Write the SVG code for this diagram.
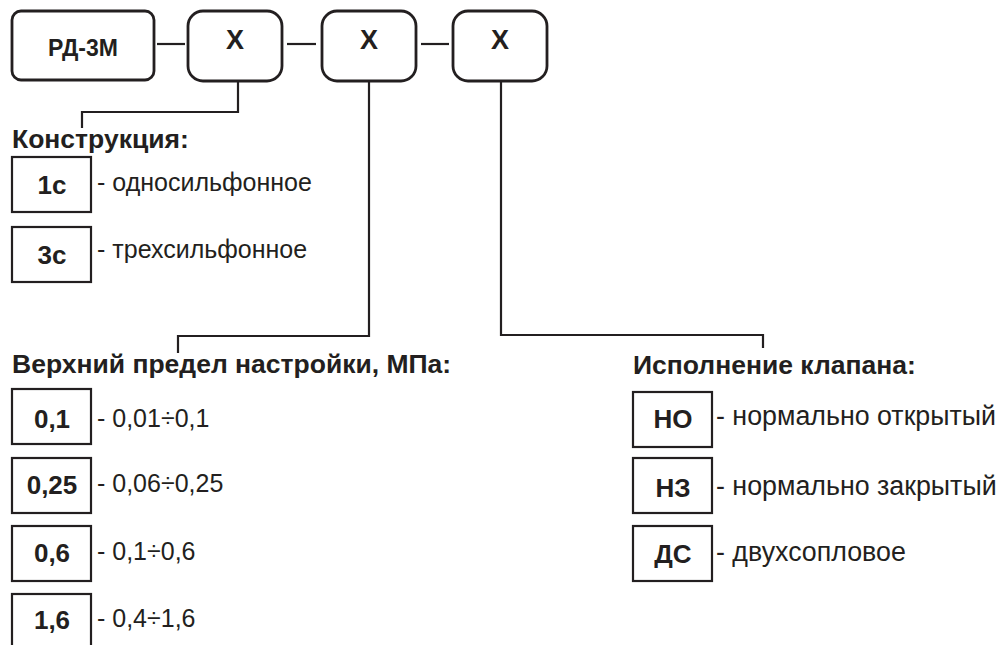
<svg xmlns="http://www.w3.org/2000/svg" width="998" height="645" viewBox="0 0 998 645">
<style>
.bg{fill:#ffffff}
.main{fill:#ffffff;stroke:#231f20;stroke-width:2.8}
.opt{fill:#ffffff;stroke:#231f20;stroke-width:2.2}
.conn{fill:none;stroke:#231f20;stroke-width:2.2}
text{font-family:"Liberation Sans",Arial,sans-serif;fill:#231f20}
.b{font-weight:bold}
.lbl{font-weight:bold;font-size:26px;text-anchor:middle}
.x{font-weight:bold;font-size:27px;text-anchor:middle}
.h{font-weight:bold;font-size:26.5px}
.d{font-size:25px}
.dr{font-size:26.8px}
</style>
<rect class="bg" x="0" y="0" width="998" height="645"/>
<g id="connectors">
<line class="conn" x1="157" y1="44" x2="185" y2="44"/>
<line class="conn" x1="287" y1="44" x2="316" y2="44"/>
<line class="conn" x1="421" y1="44" x2="449" y2="44"/>
<path class="conn" d="M238 81 V112 H82 V128"/>
<path class="conn" d="M369 81 V336 H178 V353"/>
<path class="conn" d="M501 81 V335 H763 V348"/>
</g>
<g id="rd3m"><rect class="main" x="12" y="11" width="142" height="69" rx="9"/><text class="b" x="83" y="56" font-size="23" text-anchor="middle">РД-3М</text></g>
<g id="x1"><rect class="main" x="188" y="11" width="94" height="70" rx="15"/><text class="x" x="235" y="49">Х</text></g>
<g id="x2"><rect class="main" x="322" y="11" width="94" height="70" rx="15"/><text class="x" x="369" y="49">Х</text></g>
<g id="x3"><rect class="main" x="453" y="11" width="94" height="70" rx="15"/><text class="x" x="500" y="49">Х</text></g>

<g id="construction">
<text class="h" x="12" y="148">Конструкция:</text>
</g>
<g id="opt-1c"><rect class="opt" x="12" y="157" width="79" height="55"/><text class="lbl" x="52" y="194">1с</text><text class="d" x="97" y="191">- односильфонное</text></g>
<g id="opt-3c"><rect class="opt" x="12" y="227" width="79" height="55"/><text class="lbl" x="52" y="264">3с</text><text class="d" x="97" y="258">- трехсильфонное</text></g>

<g id="limit">
<text class="h" x="12" y="373">Верхний предел настройки, МПа:</text>
</g>
<g id="opt-01"><rect class="opt" x="12" y="389" width="79" height="55"/><text class="lbl" x="52" y="428">0,1</text><text class="d" x="97" y="427">- 0,01÷0,1</text></g>
<g id="opt-025"><rect class="opt" x="12" y="458" width="79" height="55"/><text class="lbl" x="52" y="494">0,25</text><text class="d" x="97" y="492">- 0,06÷0,25</text></g>
<g id="opt-06"><rect class="opt" x="12" y="526" width="79" height="55"/><text class="lbl" x="52" y="562">0,6</text><text class="d" x="97" y="560">- 0,1÷0,6</text></g>
<g id="opt-16"><rect class="opt" x="12" y="594" width="79" height="60"/><text class="lbl" x="52" y="629">1,6</text><text class="d" x="97" y="627">- 0,4÷1,6</text></g>

<g id="valve">
<text class="h" x="633" y="374">Исполнение клапана:</text>
</g>
<g id="opt-no"><rect class="opt" x="633" y="392" width="79" height="55"/><text class="lbl" x="673" y="428">НО</text><text class="dr" x="716" y="425">- нормально открытый</text></g>
<g id="opt-nz"><rect class="opt" x="633" y="458" width="79" height="55"/><text class="lbl" x="673" y="497">НЗ</text><text class="dr" x="716" y="495">- нормально закрытый</text></g>
<g id="opt-ds"><rect class="opt" x="633" y="526" width="79" height="55"/><text class="lbl" x="673" y="563">ДС</text><text class="dr" x="716" y="561">- двухсопловое</text></g>
</svg>
